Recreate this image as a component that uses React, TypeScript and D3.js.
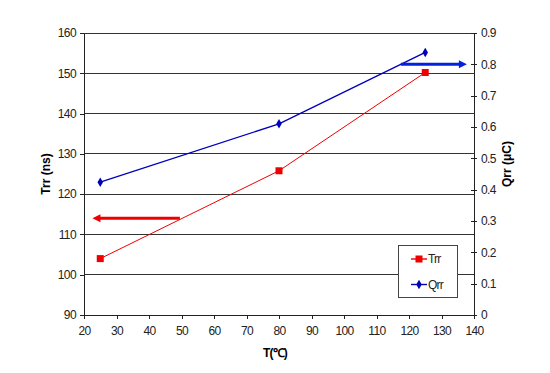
import * as d3 from "d3"
import { useEffect, useRef } from "react"

// temperature (deg C)
const temps = [25, 80, 125]
// reverse recovery time, ns
const trr = [104, 125.8, 150.2]
// reverse recovery charge, uC
const qrr = [0.424, 0.61, 0.838]

const xTicks = [20, 30, 40, 50, 60, 70, 80, 90, 100, 110, 120, 130, 140]
const leftTicks = [90, 100, 110, 120, 130, 140, 150, 160]
const rightTicks = [0, 0.1, 0.2, 0.3, 0.4, 0.5, 0.6, 0.7, 0.8, 0.9]

// annotation arrows: [xFrom, xTo, value] pointing to the matching axis
const trrArrow = [49.5, 22.6, 114]
const qrrArrow = [117.5, 137.8, 0.8]

export default function App() {
    const ref = useRef<SVGSVGElement | null>(null)

    useEffect(() => {
        const svg = d3.select(ref.current)
        svg.selectAll("*").remove()
        const width = 550
        const height = 373
        const m = { top: 33, right: 76, bottom: 58, left: 84 }
        const font = "'Liberation Sans', Arial, sans-serif"

        svg.attr("width", width).attr("height", height)
            .style("position", "absolute").style("left", 0).style("top", 0)
            .style("font-family", font)

        svg.append("rect").attr("width", width).attr("height", height).attr("fill", "#fff")

        const x = d3.scaleLinear().domain([20, 140]).range([m.left, width - m.right])
        const yL = d3.scaleLinear().domain([90, 160]).range([height - m.bottom, m.top])
        const yR = d3.scaleLinear().domain([0, 0.9]).range([height - m.bottom, m.top])

        // gridlines
        svg.append("g")
            .selectAll("line")
            .data(leftTicks.slice(1))
            .join("line")
            .attr("x1", m.left).attr("x2", width - m.right)
            .attr("y1", d => yL(d)).attr("y2", d => yL(d))
            .attr("stroke", "#333").attr("stroke-width", 1)
            .attr("shape-rendering", "crispEdges")

        const styleAxis = (g: d3.Selection<SVGGElement, unknown, null, undefined>) => {
            g.select(".domain").attr("stroke", "#222").attr("shape-rendering", "crispEdges")
            g.selectAll(".tick line").attr("stroke", "#222").attr("shape-rendering", "crispEdges")
            g.selectAll(".tick text").attr("fill", "#222").style("font-size", "12px")
                .style("font-family", font).attr("letter-spacing", "-0.6px")
        }

        svg.append("g")
            .attr("transform", `translate(0,${height - m.bottom})`)
            .call(d3.axisBottom(x).tickValues(xTicks).tickSize(4).tickSizeOuter(0).tickPadding(7))
            .call(styleAxis)

        svg.append("g")
            .attr("transform", `translate(${m.left},0)`)
            .call(d3.axisLeft(yL).tickValues(leftTicks).tickSize(4).tickSizeOuter(0).tickPadding(4))
            .call(styleAxis)

        const right = svg.append("g")
            .attr("transform", `translate(${width - m.right},0)`)
            .call(d3.axisRight(yR).tickValues(rightTicks).tickFormat(d3.format("")).tickSize(3).tickSizeOuter(0).tickPadding(4))
            .call(styleAxis)
        right.selectAll(".tick line").attr("x1", -3)

        // axis titles
        svg.append("text")
            .attr("transform", `translate(50,${(m.top + height - m.bottom) / 2}) rotate(-90)`)
            .attr("text-anchor", "middle")
            .style("font-size", "12px").style("font-weight", "bold")
            .text("Trr (ns)")
        svg.append("text")
            .attr("transform", `translate(511,${(m.top + height - m.bottom) / 2 - 10}) rotate(-90)`)
            .attr("text-anchor", "middle")
            .style("font-size", "12px").style("font-weight", "bold")
            .text("Qrr (μC)")
        svg.append("text")
            .attr("x", 275).attr("y", 357)
            .attr("text-anchor", "middle")
            .style("font-size", "12px").style("font-weight", "bold")
            .attr("letter-spacing", "-0.8px")
            .text("T(℃)")

        const red = "#ee0000"
        const blue = "#0000bb"

        // Trr series
        const lineL = d3.line<number>().x((_, i) => x(temps[i])).y(d => yL(d))
        svg.append("path").attr("d", lineL(trr)).attr("fill", "none")
            .attr("stroke", red).attr("stroke-width", 1)
        svg.append("g").selectAll("rect").data(trr).join("rect")
            .attr("x", (_, i) => x(temps[i]) - 3.5).attr("y", d => yL(d) - 3.5)
            .attr("width", 7).attr("height", 7).attr("fill", red)

        // Qrr series
        const lineR = d3.line<number>().x((_, i) => x(temps[i])).y(d => yR(d))
        svg.append("path").attr("d", lineR(qrr)).attr("fill", "none")
            .attr("stroke", blue).attr("stroke-width", 1.4)
        const diamond = d3.symbol().type(d3.symbolDiamond).size(26)
        svg.append("g").selectAll("path").data(qrr).join("path")
            .attr("transform", (d, i) => `translate(${x(temps[i])},${yR(d)})`)
            .attr("d", diamond()).attr("fill", blue)

        // arrows
        const drawArrow = (x1: number, x2: number, y: number, color: string) => {
            const dir = Math.sign(x2 - x1)
            svg.append("line").attr("x1", x1).attr("x2", x2 - dir * 5).attr("y1", y).attr("y2", y)
                .attr("stroke", color).attr("stroke-width", 3)
            svg.append("path")
                .attr("d", `M${x2},${y} L${x2 - dir * 8},${y - 4} L${x2 - dir * 8},${y + 4} Z`)
                .attr("fill", color)
        }
        drawArrow(x(trrArrow[0]), x(trrArrow[1]), yL(trrArrow[2]), red)
        drawArrow(x(qrrArrow[0]), x(qrrArrow[1]), yR(qrrArrow[2]), "#0022dd")

        // legend
        const lg = svg.append("g").attr("transform", "translate(398,245)")
        lg.append("rect").attr("width", 59).attr("height", 52)
            .attr("fill", "#fff").attr("stroke", "#444").attr("shape-rendering", "crispEdges")
        const items = [
            { name: "Trr", color: red, square: true },
            { name: "Qrr", color: blue, square: false },
        ]
        items.forEach((it, i) => {
            const cy = 14 + i * 25.5
            lg.append("line").attr("x1", 13).attr("x2", 29).attr("y1", cy).attr("y2", cy)
                .attr("stroke", it.color).attr("stroke-width", 1.4)
            if (it.square) {
                lg.append("rect").attr("x", 17.5).attr("y", cy - 3.5).attr("width", 7).attr("height", 7).attr("fill", it.color)
            } else {
                lg.append("path").attr("transform", `translate(21,${cy})`).attr("d", diamond()).attr("fill", it.color)
            }
            lg.append("text").attr("x", 30).attr("y", cy + 4)
                .style("font-size", "12px").attr("fill", "#222").attr("letter-spacing", "-0.8px")
                .text(it.name)
        })
    }, [])

    return <svg ref={ref} />
}
